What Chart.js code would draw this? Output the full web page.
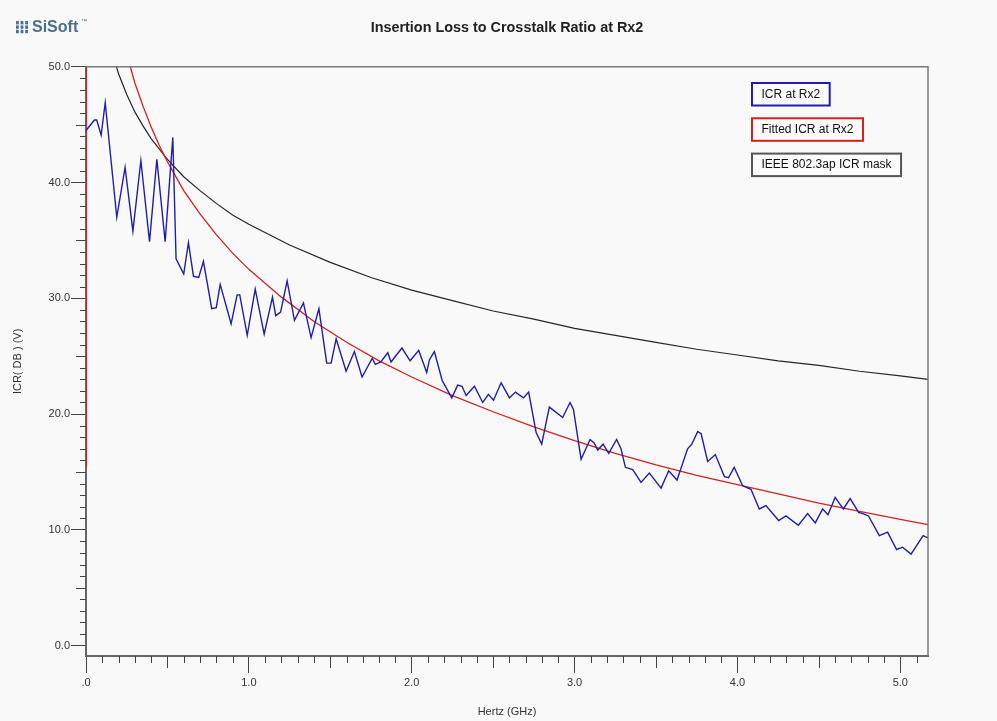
<!DOCTYPE html>
<html>
<head>
<meta charset="utf-8">
<title>Insertion Loss to Crosstalk Ratio at Rx2</title>
<script src="https://cdn.jsdelivr.net/npm/chart.js@4.4.1/dist/chart.umd.min.js"></script>
<style>
    html, body { margin: 0; padding: 0; background: #f9f9f9; }
    #icr_chart { display: block; }
</style>
</head>
<body>
<canvas id="icr_chart" width="997" height="721"></canvas>
<script>
// values (GHz / dB)
var icrFreq = [
    0.000, 0.052, 0.066, 0.093, 0.118, 0.189, 0.240, 0.288, 0.337, 0.390,
    0.435, 0.486, 0.533, 0.553, 0.600, 0.629, 0.660, 0.692, 0.721, 0.772,
    0.800, 0.824, 0.891, 0.928, 0.944, 0.990, 1.039, 1.094, 1.145, 1.165,
    1.195, 1.235, 1.280, 1.335, 1.382, 1.430, 1.478, 1.505, 1.536, 1.597,
    1.648, 1.695, 1.757, 1.777, 1.810, 1.853, 1.873, 1.940, 1.990, 2.043,
    2.092, 2.109, 2.139, 2.187, 2.246, 2.282, 2.309, 2.334, 2.385, 2.436,
    2.471, 2.502, 2.549, 2.600, 2.637, 2.686, 2.718, 2.764, 2.798, 2.845,
    2.927, 2.972, 2.993, 3.040, 3.095, 3.120, 3.142, 3.175, 3.210, 3.258,
    3.285, 3.312, 3.357, 3.408, 3.459, 3.531, 3.578, 3.629, 3.694, 3.720,
    3.756, 3.777, 3.817, 3.864, 3.920, 3.945, 3.980, 4.032, 4.083, 4.134,
    4.175, 4.253, 4.298, 4.374, 4.431, 4.478, 4.523, 4.556, 4.600, 4.650,
    4.692, 4.744, 4.770, 4.805, 4.871, 4.922, 4.977, 5.014, 5.066, 5.140,
    5.170
];
var icrValues = [
    44.5, 45.4, 45.4, 44.1, 46.9, 37.0, 41.3, 35.8, 41.9, 34.9,
    42.0, 34.9, 43.9, 33.4, 32.1, 34.8, 31.9, 31.8, 33.2, 29.1,
    29.2, 31.2, 27.8, 30.3, 30.3, 26.8, 30.8, 26.9, 30.1, 28.5,
    28.8, 31.5, 28.1, 29.6, 26.6, 29.1, 24.4, 24.4, 26.5, 23.7,
    25.4, 23.2, 24.8, 24.3, 24.5, 25.3, 24.5, 25.7, 24.6, 25.5,
    23.6, 24.7, 25.4, 22.9, 21.4, 22.5, 22.4, 21.6, 22.4, 21.0,
    21.7, 21.2, 22.7, 21.4, 21.9, 21.4, 21.9, 18.4, 17.4, 20.6,
    19.7, 21.0, 20.4, 16.1, 17.8, 17.5, 16.9, 17.4, 16.6, 17.8,
    17.0, 15.4, 15.2, 14.1, 14.9, 13.6, 15.1, 14.3, 17.0, 17.4,
    18.5, 18.3, 15.9, 16.5, 14.6, 14.5, 15.4, 13.8, 13.5, 11.8,
    12.1, 10.8, 11.2, 10.4, 11.4, 10.6, 11.8, 11.3, 12.8, 11.8,
    12.7, 11.5, 11.4, 11.2, 9.5, 9.8, 8.3, 8.5, 7.9, 9.5,
    9.3
];

var fitFreq = [
    0.000, 0.003, 0.25, 0.30, 0.35, 0.40, 0.45, 0.50, 0.60, 0.70,
    0.80, 0.90, 1.00, 1.20, 1.40, 1.60, 1.80, 2.00, 2.25, 2.50,
    2.75, 3.00, 3.25, 3.50, 3.75, 4.00, 4.25, 4.50, 4.75, 5.00,
    5.17
];
var fitValues = [
    15.5, 60.0, 51.1, 48.6, 46.6, 44.8, 43.2, 41.8, 39.3, 37.3,
    35.5, 33.9, 32.5, 30.1, 28.0, 26.2, 24.6, 23.2, 21.6, 20.2,
    18.9, 17.7, 16.6, 15.6, 14.7, 13.9, 13.1, 12.3, 11.6, 10.9,
    10.45
];

var maskFreq = [
    0.17, 0.20, 0.25, 0.30, 0.35, 0.40, 0.50, 0.60, 0.70, 0.80,
    0.90, 1.00, 1.25, 1.50, 1.75, 2.00, 2.25, 2.50, 2.75, 3.00,
    3.25, 3.50, 3.75, 4.00, 4.25, 4.50, 4.75, 5.00, 5.17
];
var maskValues = [
    50.8, 49.4, 47.6, 46.1, 44.9, 43.8, 42.0, 40.5, 39.3, 38.2,
    37.2, 36.4, 34.6, 33.1, 31.8, 30.7, 29.8, 28.9, 28.2, 27.4,
    26.8, 26.2, 25.6, 25.1, 24.6, 24.2, 23.7, 23.3, 23.0
];

var seriesLabels = [ "ICR at Rx2", "Fitted ICR at Rx2", "IEEE 802.3ap ICR mask" ];
var xTickValues  = [ 0, 1, 2, 3, 4, 5 ];
var yTickValues  = [ 0, 10, 20, 30, 40, 50 ];

function toPoints( xs, ys ) {
    return xs.map( function( x, i ){ return { x: x, y: ys[i] }; } );
}

// page background + SiSoft logo
var backdrop = {
    id: "backdrop",
    beforeDraw: function( chart ) {
        var ctx = chart.ctx;
        ctx.save();
        ctx.fillStyle = "#f9f9f9";
        ctx.fillRect( 0, 0, chart.width, chart.height );

        ctx.fillStyle = "#4d6d92";
        for ( var c = 0; c < 3; c++ ) {
            for ( var r = 0; r < 3; r++ ) {
                ctx.fillRect( 16 + c * 4.6, 21 + r * 4.4, 2.8, 3.4 );
            }
        }
        ctx.font = "bold 16px 'Liberation Sans', Arial, sans-serif";
        ctx.textBaseline = "middle";
        ctx.fillText( "SiSoft", 32, 28 );
        ctx.font = "6px 'Liberation Sans', Arial, sans-serif";
        ctx.fillText( "\u2122", 81, 21 );
        ctx.restore();
    }
};

// minor ticks and the grey frame on top / right
var axisDecor = {
    id: "axisDecor",
    afterDraw: function( chart ) {
        var ctx  = chart.ctx,
            area = chart.chartArea,
            xs   = chart.scales.x,
            ys   = chart.scales.y,
            i, px, py, len;
        ctx.save();
        ctx.strokeStyle = "#444";
        ctx.lineWidth = 1;
        ctx.beginPath();
        for ( i = 1; i / 10 <= xs.max; i++ ) {
            if ( i % 10 === 0 ) continue;
            px = Math.round( xs.getPixelForValue( i / 10 ) ) + 0.5;
            len = ( i % 5 === 0 ) ? 12 : 7;
            ctx.moveTo( px, area.bottom );
            ctx.lineTo( px, area.bottom + len );
        }
        for ( i = 1; i < 50; i++ ) {
            if ( i % 10 === 0 ) continue;
            py = Math.round( ys.getPixelForValue( i ) ) + 0.5;
            len = ( i % 5 === 0 ) ? 10 : 6;
            ctx.moveTo( area.left - len, py );
            ctx.lineTo( area.left, py );
        }
        ctx.stroke();

        ctx.strokeStyle = "#7a7a7a";
        ctx.lineWidth = 1.5;
        ctx.beginPath();
        ctx.moveTo( area.left, area.top );
        ctx.lineTo( area.right, area.top );
        ctx.lineTo( area.right, area.bottom );
        ctx.stroke();
        ctx.restore();
    }
};

// boxed legend entries, one box per series
var boxLegend = {
    id: "boxLegend",
    afterDraw: function( chart ) {
        var ctx = chart.ctx;
        ctx.save();
        ctx.font = "12px 'Liberation Sans', Arial, sans-serif";
        ctx.textBaseline = "middle";
        chart.data.datasets.forEach( function( ds, i ) {
            var top = 83 + i * 35.3,
                w   = ctx.measureText( ds.label ).width + 19;
            ctx.fillStyle = "#fcfcfc";
            ctx.fillRect( 752, top, w, 22.5 );
            ctx.strokeStyle = ds.legendBorder;
            ctx.lineWidth = 2;
            ctx.strokeRect( 752, top, w, 22.5 );
            ctx.fillStyle = "#111";
            ctx.fillText( ds.label, 761.5, top + 11.5 );
        } );
        ctx.restore();
    }
};

Chart.defaults.font.family = "'Liberation Sans', Arial, sans-serif";
Chart.defaults.font.size = 11;
Chart.defaults.color = "#333";

var icrChart = new Chart( document.getElementById( "icr_chart" ).getContext( "2d" ), {
    type: "line",
    data: {
        datasets: [
            { label: seriesLabels[0], data: toPoints( icrFreq, icrValues ),
              borderColor: "#1e1eb4", legendBorder: "#1e1eb4", borderWidth: 1.4 },
            { label: seriesLabels[1], data: toPoints( fitFreq, fitValues ),
              borderColor: "#d81f1f", legendBorder: "#d81f1f", borderWidth: 1.3 },
            { label: seriesLabels[2], data: toPoints( maskFreq, maskValues ),
              borderColor: "#262626", legendBorder: "#555", borderWidth: 1.2 }
        ]
    },
    options: {
        responsive: false,
        animation: false,
        elements: { point: { radius: 0 }, line: { tension: 0, fill: false } },
        layout: { padding: { left: 0, right: 69, top: 0, bottom: 0 } },
        plugins: {
            legend: { display: false },
            tooltip: { enabled: false },
            title: {
                display: true,
                text: "Insertion Loss to Crosstalk Ratio at Rx2",
                fullSize: false,
                color: "#222",
                font: { size: 14.4, weight: "bold" },
                padding: { top: 19.5, bottom: 30 }
            }
        },
        scales: {
            x: {
                type: "linear",
                min: 0,
                max: 5.17,
                afterBuildTicks: function( scale ) {
                    scale.ticks = xTickValues.map( function( v ){ return { value: v }; } );
                },
                afterFit: function( scale ) { scale.height = 65; },
                ticks: {
                    padding: 3,
                    maxRotation: 0,
                    callback: function( v ) { return v === 0 ? ".0" : v.toFixed( 1 ); }
                },
                grid: { drawOnChartArea: false, tickLength: 17, color: "#444" },
                border: { color: "#666", width: 2 },
                title: { display: true, text: "Hertz (GHz)", padding: { top: 0, bottom: 2.4 } }
            },
            y: {
                min: -0.9,
                max: 50,
                afterBuildTicks: function( scale ) {
                    scale.ticks = yTickValues.map( function( v ){ return { value: v }; } );
                },
                afterFit: function( scale ) { scale.width = 86; },
                ticks: {
                    padding: 1,
                    callback: function( v ) { return v.toFixed( 1 ); }
                },
                grid: { drawOnChartArea: false, tickLength: 15, color: "#444" },
                border: { color: "#666", width: 2 },
                title: { display: true, text: "ICR( DB ) (V)", padding: { top: 11.4, bottom: 0 } }
            }
        }
    },
    plugins: [ backdrop, axisDecor, boxLegend ]
} );
</script>
</body>
</html>
